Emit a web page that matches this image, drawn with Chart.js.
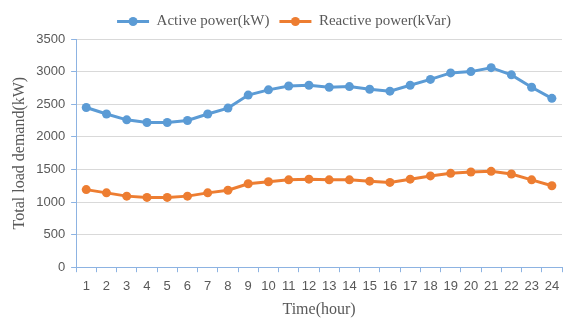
<!DOCTYPE html>
<html><head><meta charset="utf-8">
<script src="https://cdn.jsdelivr.net/npm/chart.js@4/dist/chart.umd.min.js"></script>
<style>html,body{margin:0;padding:0;background:#fff}#w{width:572px;height:321px}</style>
</head><body><div id="w"><canvas id="c"></canvas></div>
<script>
const hours = ['1','2','3','4','5','6','7','8','9','10','11','12','13','14','15','16','17','18','19','20','21','22','23','24'];
const activePower = [2450,2350,2260,2220,2220,2250,2350,2440,2640,2720,2780,2790,2760,2770,2730,2700,2790,2880,2980,3000,3060,2950,2760,2590];
const reactivePower = [1190,1140,1090,1070,1070,1090,1140,1180,1280,1310,1340,1350,1340,1340,1320,1300,1350,1400,1440,1460,1470,1430,1340,1250];
const yTicks = [0,500,1000,1500,2000,2500,3000,3500];

const BLUE = '#5b9bd5', ORANGE = '#ed7d31', AXIS = '#8db3e2';
const legendDots = {
  id: 'legendDots',
  afterDraw(chart) {
    const lg = chart.legend; if (!lg || !lg.legendHitBoxes) return;
    const ctx = chart.ctx;
    lg.legendHitBoxes.forEach((b, i) => {
      const ds = chart.data.datasets[i];
      ctx.save();
      ctx.fillStyle = ds.borderColor;
      ctx.beginPath();
      ctx.arc(b.left + 16, b.top + b.height / 2, 4.5, 0, Math.PI * 2);
      ctx.fill();
      ctx.restore();
    });
  }
};
new Chart(document.getElementById('c'), {
  type: 'line',
  data: {
    labels: hours,
    datasets: [
      {label: 'Active power(kW)', data: activePower, borderColor: BLUE, backgroundColor: BLUE, borderWidth: 3, pointRadius: 4.5, pointBackgroundColor: BLUE, pointBorderWidth: 0, tension: 0},
      {label: 'Reactive power(kVar)', data: reactivePower, borderColor: ORANGE, backgroundColor: ORANGE, borderWidth: 3, pointRadius: 4.5, pointBackgroundColor: ORANGE, pointBorderWidth: 0, tension: 0}
    ]
  },
  options: {
    responsive: true, maintainAspectRatio: false, animation: false,
    layout: {padding: {left: 6, right: 10, top: 4, bottom: 0}},
    plugins: {
      legend: {position: 'top', labels: {boxWidth: 32, boxHeight: 3, padding: 10, color: '#595959', font: {family: 'Liberation Serif', size: 15},
        generateLabels(chart) {
          return chart.data.datasets.map((d, i) => ({text: d.label, fillStyle: d.borderColor, strokeStyle: d.borderColor, lineWidth: 0, datasetIndex: i, fontColor: '#595959'}));
        }}},
      tooltip: {enabled: false}
    },
    scales: {
      x: {
        offset: true,
        grid: {display: true, drawOnChartArea: false, offset: true, tickColor: AXIS, tickLength: 5},
        border: {color: AXIS},
        ticks: {color: '#595959', font: {family: 'Liberation Sans', size: 13}, maxRotation: 0, autoSkip: false, padding: 6},
        title: {display: true, text: 'Time(hour)', color: '#595959', font: {family: 'Liberation Serif', size: 16}, padding: {top: 0, bottom: 2}}
      },
      y: {
        min: 0, max: 3500,
        afterBuildTicks(s) { s.ticks = yTicks.map(v => ({value: v})); },
        grid: {color: '#d9d9d9', tickColor: AXIS, tickLength: 5},
        border: {color: AXIS},
        ticks: {color: '#595959', font: {family: 'Liberation Sans', size: 13}, padding: 6, callback: v => String(v)},
        title: {display: true, text: 'Total load demand(kW)', color: '#595959', font: {family: 'Liberation Serif', size: 16}, padding: {top: 4, bottom: 1}}
      }
    }
  },
  plugins: [legendDots]
});
</script></body></html>
